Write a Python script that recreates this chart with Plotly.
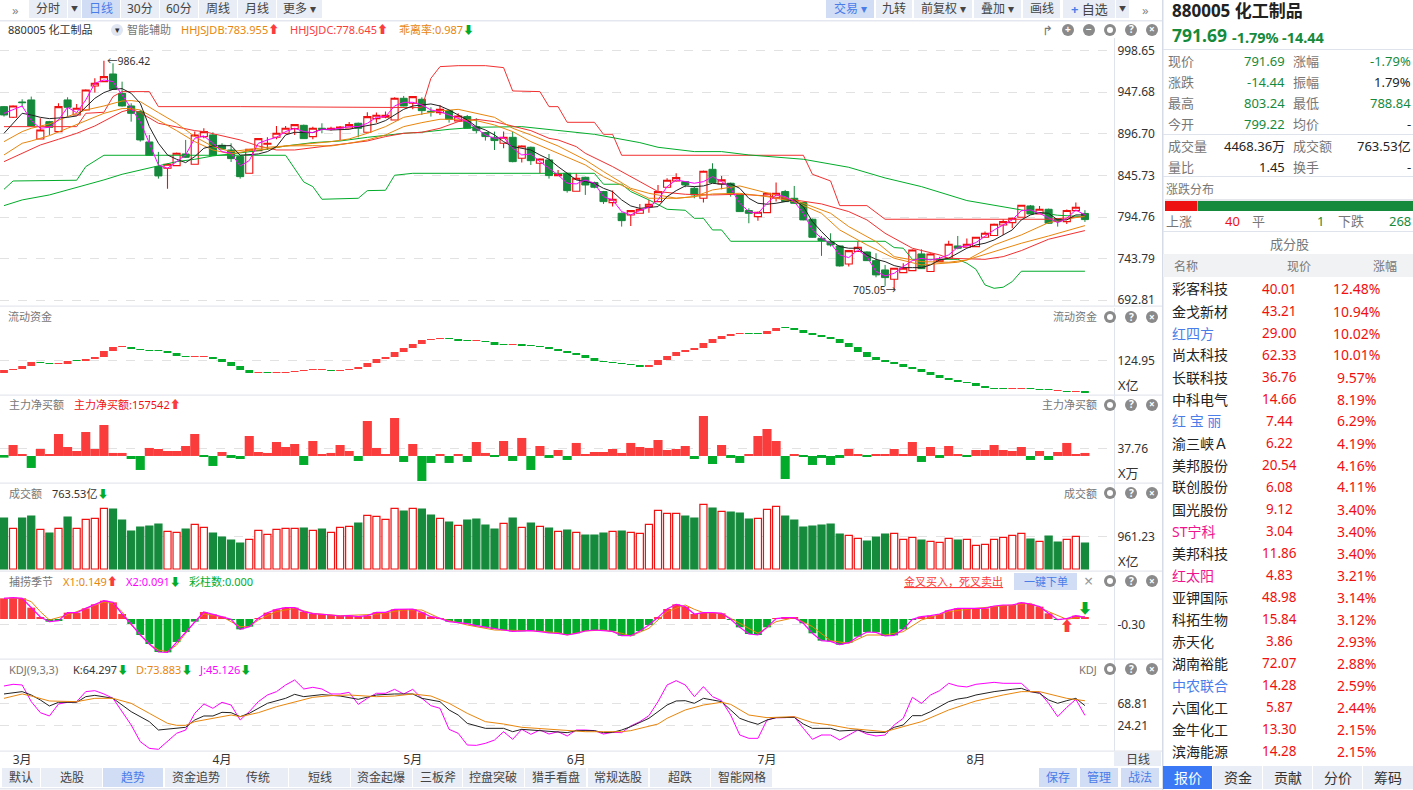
import plotly.graph_objects as go
from plotly.subplots import make_subplots

W, H = 1413, 790
FONT = "Noto Sans, Noto Sans CJK SC, DejaVu Sans"

RED = "#f01010"
RED2 = "#fb3c3c"
GREEN = "#168a3c"
GREEN2 = "#02ac2a"
ORANGE = "#e8860c"
MAGENTA = "#ff00ff"
BLUE = "#4a7de8"
GREY = "#777777"
DARK = "#222222"
BTN = "#e9edf5"
BTN_ON = "#d1dcf5"
LINE = "#e4e7ef"

# ---------- daily candles ----------
OPEN = [
    930.1, 917.0, 935.8, 938.3, 890.5, 911.7, 899.5, 938.3, 919.9, 926.0,
    955.4, 960.7, 970.1, 946.4, 930.9, 924.0, 886.8, 856.6, 854.6, 857.8,
    872.1, 859.5, 893.4, 895.4, 882.7, 877.0, 868.9, 848.4, 876.2, 884.0,
    892.5, 897.4, 903.2, 907.2, 893.4, 903.6, 902.3, 903.9, 903.9, 909.7,
    898.7, 915.4, 917.0, 913.8, 940.3, 934.2, 939.1, 924.4, 922.8, 925.2,
    912.6, 917.9, 905.6, 898.3, 892.5, 885.2, 892.5, 866.8, 880.3, 860.7,
    864.8, 845.6, 848.4, 826.4, 843.5, 837.0, 826.0, 812.5, 799.4, 797.4,
    799.4, 807.6, 813.7, 831.3, 839.0, 838.2, 830.0, 817.8, 853.3, 835.4,
    836.2, 821.9, 802.7, 795.3, 800.2, 817.8, 826.0, 817.8, 812.5, 792.1,
    768.8, 764.7, 759.4, 737.3, 752.5, 752.0, 741.4, 730.0, 718.6, 726.7,
    729.2, 749.6, 728.0, 740.2, 744.3, 759.4, 757.8, 758.6, 770.0, 772.1,
    785.1, 788.0, 794.5, 808.4, 798.6, 804.3, 792.9, 789.2, 802.7, 799.22,
]
HIGH = [
    930.9, 931.7, 939.1, 942.4, 915.8, 912.6, 934.2, 941.6, 933.4, 951.3,
    964.8, 986.42, 983.2, 960.7, 934.2, 926.0, 895.4, 874.6, 860.3, 873.8,
    889.3, 899.5, 903.6, 898.7, 885.2, 885.2, 869.7, 878.6, 891.7, 892.5,
    906.4, 906.4, 908.9, 908.1, 905.6, 909.7, 905.6, 906.4, 911.3, 910.5,
    923.2, 922.8, 924.0, 941.5, 943.2, 943.2, 941.5, 929.3, 932.1, 926.0,
    921.9, 919.9, 915.8, 899.1, 899.5, 899.5, 899.5, 882.7, 881.1, 866.8,
    872.1, 852.5, 849.2, 848.4, 844.3, 838.2, 826.8, 827.2, 800.2, 803.5,
    810.9, 815.8, 834.1, 842.3, 848.4, 839.0, 832.1, 851.7, 860.7, 845.2,
    837.0, 822.7, 805.5, 801.5, 824.7, 837.0, 828.0, 832.9, 813.3, 792.9,
    771.6, 774.9, 760.2, 754.5, 764.7, 752.8, 750.4, 736.1, 732.8, 738.2,
    755.3, 755.3, 750.4, 746.3, 765.9, 771.6, 768.4, 770.8, 777.0, 786.8,
    792.1, 794.1, 810.0, 809.6, 808.4, 805.1, 793.7, 803.9, 812.5, 803.24,
]
LOW = [
    917.9, 916.2, 929.3, 905.6, 890.1, 895.4, 899.1, 917.0, 919.5, 925.2,
    947.3, 960.3, 950.5, 930.1, 911.7, 887.2, 870.1, 841.9, 829.6, 857.4,
    867.6, 859.0, 891.3, 870.1, 877.8, 862.3, 841.9, 848.0, 875.8, 877.0,
    890.1, 896.6, 895.4, 890.5, 890.1, 897.4, 900.7, 889.3, 903.2, 892.5,
    898.3, 910.5, 915.8, 913.4, 930.5, 926.8, 919.9, 917.9, 919.9, 910.5,
    912.2, 903.2, 897.4, 888.5, 877.0, 879.1, 861.9, 861.5, 858.6, 848.4,
    841.9, 845.2, 824.7, 826.0, 821.9, 830.0, 810.9, 807.6, 783.1, 783.9,
    799.0, 800.2, 813.3, 830.9, 838.2, 831.3, 817.8, 812.5, 836.6, 828.8,
    819.8, 801.1, 787.2, 790.4, 799.8, 813.7, 813.3, 810.9, 790.8, 769.6,
    747.2, 758.6, 734.1, 734.1, 752.0, 741.0, 721.0, 710.4, 705.05, 726.3,
    728.8, 731.2, 727.5, 739.4, 743.9, 755.3, 757.4, 758.2, 769.6, 771.6,
    772.9, 781.0, 794.1, 798.2, 798.2, 786.8, 783.1, 786.4, 802.3, 788.84,
]
CLOSE = [
    919.9, 930.9, 935.0, 906.4, 901.5, 904.8, 930.1, 929.3, 928.1, 950.5,
    958.7, 966.9, 951.3, 930.9, 921.9, 889.3, 870.5, 845.2, 859.5, 872.9,
    868.0, 895.4, 899.5, 870.5, 878.2, 866.4, 844.3, 877.8, 890.9, 885.2,
    897.4, 903.6, 908.1, 890.9, 903.6, 902.3, 903.6, 905.2, 908.1, 903.6,
    917.9, 919.5, 919.5, 940.3, 930.9, 942.4, 925.2, 923.6, 926.8, 914.6,
    918.7, 903.6, 900.7, 893.4, 888.5, 892.5, 862.7, 881.9, 863.9, 866.0,
    845.6, 847.6, 827.2, 842.3, 834.1, 831.3, 813.7, 816.6, 790.4, 802.7,
    804.3, 810.5, 826.0, 839.9, 843.1, 834.1, 821.9, 850.9, 837.0, 840.3,
    823.9, 801.5, 799.4, 800.6, 823.9, 823.9, 813.7, 811.7, 791.3, 770.0,
    765.9, 760.6, 734.9, 753.7, 757.8, 741.4, 723.9, 720.6, 732.0, 732.0,
    754.5, 731.6, 749.6, 743.0, 761.4, 756.6, 761.4, 770.0, 774.9, 786.0,
    789.2, 793.3, 809.2, 798.6, 804.3, 787.2, 789.2, 802.9, 806.8, 791.69,
]
DAYS = list(range(len(CLOSE)))

# ---------- overlay lines on the candles ----------
MA_FAST = [
    921.9, 926.0, 930.9, 913.0, 903.6, 904.8, 913.8, 929.3, 922.8, 938.3,
    958.7, 962.8, 960.7, 944.4, 928.1, 911.7, 885.2, 858.6, 854.6, 862.7,
    870.9, 891.3, 894.2, 885.2, 875.0, 872.9, 857.4, 864.0, 885.2, 889.3,
    892.5, 899.5, 903.6, 899.5, 898.3, 902.3, 902.3, 903.6, 905.6, 905.6,
    909.7, 917.0, 917.9, 930.9, 935.4, 935.4, 932.1, 926.0, 924.0, 919.9,
    915.8, 911.7, 903.6, 895.4, 891.3, 892.5, 879.1, 870.9, 872.1, 862.7,
    854.6, 846.4, 836.2, 835.4, 840.3, 836.2, 819.8, 815.8, 801.5, 797.4,
    802.7, 806.8, 815.8, 832.1, 840.3, 838.2, 836.2, 838.2, 844.3, 838.2,
    830.0, 811.7, 801.5, 799.4, 811.7, 821.9, 819.8, 813.7, 799.4, 779.0,
    768.8, 762.7, 748.4, 745.1, 754.5, 746.3, 728.0, 722.6, 725.9, 734.1,
    741.4, 744.3, 742.2, 744.3, 748.4, 757.8, 759.4, 763.5, 771.6, 779.0,
    785.1, 791.3, 802.7, 803.5, 799.4, 793.3, 788.0, 793.3, 803.5, 797.4,
]
MA_SLOW = [
    897.4, 909.7, 921.9, 919.9, 917.0, 915.4, 915.8, 917.0, 918.7, 930.1,
    940.3, 947.3, 951.3, 952.2, 946.4, 934.2, 905.6, 885.2, 870.9, 865.6,
    861.5, 868.9, 879.1, 881.9, 881.9, 882.3, 870.5, 870.9, 872.1, 875.0,
    881.1, 895.4, 898.7, 898.3, 898.3, 902.3, 901.5, 901.9, 902.3, 904.8,
    906.4, 908.9, 913.0, 919.9, 926.8, 930.9, 932.1, 933.4, 930.9, 926.0,
    919.9, 913.8, 905.6, 901.5, 895.4, 887.2, 881.1, 879.1, 877.0, 870.9,
    865.6, 856.6, 848.4, 840.3, 838.2, 836.2, 830.0, 826.0, 815.8, 808.4,
    805.5, 806.4, 807.6, 819.8, 827.2, 832.9, 832.1, 832.9, 836.2, 835.0,
    835.4, 830.0, 817.8, 811.7, 810.5, 811.7, 813.7, 815.8, 807.6, 789.2,
    777.0, 765.9, 758.6, 756.6, 756.6, 748.4, 743.0, 740.2, 735.3, 732.8,
    732.8, 732.8, 736.1, 742.2, 744.3, 750.4, 756.6, 760.6, 762.7, 766.7,
    772.9, 779.0, 791.3, 797.4, 800.2, 799.4, 791.3, 791.3, 797.4, 797.4,
]
BAND_A_X = [0, 2, 3, 5, 7, 9, 11, 13, 14, 15, 17, 19, 21, 23, 25, 27, 29, 31, 34, 36,
            38, 40, 42, 44, 46, 48, 50, 52, 54, 56, 58, 61, 63, 64, 66, 69, 71, 74, 76, 78,
            81, 84, 87, 91, 93, 96, 98, 101, 104, 106, 109, 112, 115, 119]
BAND_A = [887.2, 899.5, 903.6, 908.9, 917.9, 926.0, 930.9, 937.0, 937.5, 936.2,
          922.8, 909.7, 893.4, 881.1, 875.0, 877.8, 880.3, 881.9, 885.2, 887.2,
          890.5, 897.4, 905.6, 917.0, 921.1, 924.8, 926.8, 921.9, 917.0, 903.6,
          895.4, 881.9, 870.9, 864.8, 850.5, 830.0, 823.9, 817.8, 819.8, 828.0,
          832.9, 823.9, 815.8, 799.4, 783.1, 764.7, 746.3, 740.2, 739.4, 742.2,
          760.6, 772.9, 788.0, 796.2]
BAND_B_X = [0, 2, 3, 5, 7, 9, 11, 13, 14, 15, 17, 19, 21, 23, 25, 27, 29, 31, 34, 36,
            38, 40, 42, 44, 46, 48, 50, 52, 54, 56, 58, 61, 64, 66, 69, 71, 74, 76, 78, 81,
            84, 87, 90, 92, 95, 98, 101, 105, 106, 109, 112, 115, 119]
BAND_B = [870.9, 885.2, 888.0, 894.6, 903.6, 913.0, 921.9, 927.7, 927.7, 926.0,
          913.8, 900.7, 887.2, 877.0, 872.1, 876.2, 878.2, 881.9, 882.3, 881.9,
          885.2, 889.3, 895.4, 905.6, 910.5, 914.6, 914.6, 913.0, 907.6, 899.5,
          887.2, 872.9, 858.6, 844.3, 828.0, 817.8, 817.8, 819.8, 823.1, 823.9,
          819.8, 813.7, 799.4, 779.0, 760.6, 744.3, 736.1, 739.4, 742.2, 752.5,
          762.7, 771.6, 784.3]
HHJSJDC_X = [0, 2, 4, 6, 8, 10, 12, 13, 14, 15, 17, 21, 22, 26, 28, 30, 32, 35, 38, 40,
             42, 44, 46, 48, 50, 52, 54, 56, 58, 60, 61, 63, 64, 67, 70, 72, 75, 78, 81, 84,
             87, 90, 93, 95, 97, 100, 103, 104, 108, 110, 112, 115, 119]
HHJSJDC = [862.7, 872.9, 883.1, 890.1, 897.4, 906.4, 917.9, 924.0, 926.8, 922.8,
           909.7, 900.7, 899.5, 889.3, 881.9, 877.0, 877.0, 881.1, 885.2, 888.0,
           893.4, 897.4, 898.7, 903.6, 911.7, 914.6, 911.7, 906.4, 900.7, 891.3,
           889.3, 881.1, 872.9, 856.6, 838.2, 826.0, 822.7, 821.9, 822.7, 820.7,
           815.8, 810.9, 801.5, 791.3, 774.9, 756.6, 748.4, 744.3, 743.0, 746.3,
           753.7, 767.6, 778.2]
TREND_X = [0, 2, 5, 8, 11, 13, 16, 19, 21, 23, 25, 28, 31, 34, 37, 40, 44, 46, 49, 52,
           57, 60, 63, 65, 70, 72, 76, 79, 82, 88, 93, 97, 101, 106, 112, 116, 119]
TREND = [808.8, 815.8, 821.9, 830.9, 840.3, 847.2, 854.6, 862.7, 865.6, 869.7,
         872.1, 876.2, 881.9, 886.0, 888.0, 892.5, 897.4, 898.7, 902.3, 904.8,
         905.6, 902.3, 898.3, 896.2, 886.0, 880.3, 875.0, 875.0, 870.9, 865.6,
         855.8, 842.7, 832.1, 815.0, 803.5, 797.0, 795.3]
CH_UP_X = [0, 8, 9, 11, 12, 13, 16, 17, 26, 46, 47, 48, 50, 53, 55, 56, 59, 60, 61, 62,
           65, 66, 67, 68, 88, 89, 91, 92, 95, 97, 115, 119]
CH_UP = [905.6, 905.6, 921.9, 923.2, 942.4, 948.5, 948.5, 930.1, 930.1, 928.9,
         964.8, 979.1, 980.3, 980.3, 977.9, 949.3, 948.5, 930.1, 930.1, 910.9,
         910.9, 896.2, 896.2, 870.5, 870.5, 847.2, 839.0, 808.8, 808.8, 792.1,
         792.1, 795.3]
CH_DN_X = [0, 1, 8, 9, 11, 31, 33, 34, 35, 39, 40, 42, 43, 45, 65, 66, 68, 69, 71, 73,
           75, 76, 77, 78, 79, 80, 97, 98, 99, 100, 105, 106, 107, 108, 109, 110, 111, 112, 119]
CH_DN = [828.8, 839.0, 839.9, 856.6, 870.5, 870.5, 837.8, 832.1, 816.6, 817.8,
         827.2, 827.6, 846.0, 848.4, 848.4, 835.0, 835.0, 826.0, 815.8, 804.3,
         803.1, 793.3, 793.3, 779.0, 779.0, 765.1, 765.1, 757.4, 756.6, 743.0,
         743.0, 738.2, 730.8, 711.6, 707.5, 708.8, 715.7, 728.4, 728.4]
PRICE_TICKS = [998.65, 947.68, 896.70, 845.73, 794.76, 743.79, 692.81]

# ---------- flow, floating blocks ----------
FLOW_OPEN = [
    106, 110.5, 112, 116.5, 122.5, 121, 119.5, 119.5, 125.5, 124,
    127, 130, 139, 145, 145, 142, 140.5, 140.5, 139, 136,
    131.5, 130, 130, 130, 127, 122.5, 116.5, 110.5, 106, 107.5,
    106, 106, 107.5, 109, 110.5, 110.5, 110.5, 109, 110.5, 112,
    115, 121, 127, 130, 137.5, 143.5, 149.5, 155.5, 157, 158.5,
    157, 155.5, 154, 154, 152.5, 149.5, 148, 149.5, 148, 146.5,
    145, 142, 139, 136, 133, 128.5, 124, 122.5, 121, 119.5,
    118, 115, 118, 125.5, 131.5, 137.5, 140.5, 143.5, 151, 157,
    161.5, 164.5, 166, 166, 164.5, 169, 175, 173.5, 170.5, 166,
    163, 160, 157, 151, 145, 137.5, 130, 125.5, 122.5, 119.5,
    115, 112, 107.5, 103, 98.5, 95.5, 92.5, 91, 86.5, 83.5,
    83.5, 82, 82, 83.5, 82, 82, 79, 79, 77.5, 79,
]
FLOW_CLOSE = [
    110.5, 112, 116.5, 122.5, 121, 119.5, 120.5, 124, 124, 127,
    130, 139, 145, 146.5, 142, 140.5, 139, 139, 136, 131.5,
    130, 131.5, 131.5, 127, 122.5, 116.5, 110.5, 106, 107.5, 106,
    107.5, 107.5, 109, 110.5, 112, 112, 109, 110.5, 112, 115,
    121, 127, 130, 137.5, 143.5, 149.5, 155.5, 157, 158.5, 157,
    154, 154, 155.5, 152.5, 148, 148, 149.5, 146.5, 146.5, 145,
    142, 139, 136, 133, 128.5, 124, 122.5, 121, 119.5, 118,
    115, 118, 125.5, 131.5, 137.5, 140.5, 143.5, 151, 157, 161.5,
    164.5, 166, 164.5, 164.5, 169, 173.5, 173.5, 170.5, 166, 163,
    160, 157, 151, 145, 137.5, 130, 125.5, 122.5, 119.5, 115,
    112, 107.5, 103, 98.5, 95.5, 92.5, 91, 86.5, 83.5, 82,
    82, 83.5, 83.5, 82, 80.5, 80.5, 80.5, 77.5, 79, 76,
]

# ---------- main force net buying ----------
NET_BUY = [
    -8.2, 54.1, 4.9, -59.0, 34.4, 4.9, 108.2, 44.3, 24.6, 118.1,
    34.4, 152.5, 14.8, 14.8, -14.8, -68.9, 39.4, 34.4, 24.6, 24.6,
    49.2, 108.2, -4.9, -49.2, 19.7, -9.8, -14.8, 98.4, 19.7, 14.8,
    68.9, 44.3, 59.0, -44.3, 73.8, 4.9, 14.8, 54.1, 24.6, -24.6,
    172.2, 39.4, 9.8, 187.0, -29.5, 59.0, -123.0, -34.4, 4.9, -34.4,
    4.9, -29.5, 68.9, 14.8, -4.9, 73.8, -24.6, 88.6, -68.9, 49.2,
    -9.8, 29.5, -19.7, 64.0, 4.9, 19.7, 19.7, 34.4, 14.8, 64.0,
    44.3, 39.4, 78.7, 29.5, 34.4, 49.2, -14.8, 196.8, -39.4, 54.1,
    -9.8, -34.4, 9.8, 98.4, 132.8, 73.8, -113.2, 9.8, -4.9, -44.3,
    -9.8, -44.3, -9.8, 34.4, 4.9, -4.9, 4.9, 9.8, 34.4, 4.9,
    68.9, -29.5, 44.3, -9.8, 49.2, 4.9, -3.3, 29.5, 29.5, 54.1,
    29.5, 24.6, 44.3, -19.7, 24.6, -19.7, 19.7, 64.0, 9.8, 14.8,
]

# ---------- turnover ----------
TURNOVER = [
    1501, 1197, 1501, 1560, 1167, 1059, 1197, 1530, 1197, 1462,
    1491, 1785, 1766, 1442, 1118, 1236, 1265, 1324, 1109, 1079,
    1177, 1315, 1226, 1059, 942, 853, 765, 873, 1138, 1020,
    1167, 1197, 1197, 1207, 1138, 1177, 1079, 1226, 1256, 1354,
    1579, 1550, 1462, 1785, 1707, 1785, 1766, 1589, 1491, 1383,
    1285, 1442, 1472, 1295, 1177, 1344, 1501, 1226, 1354, 1256,
    1207, 1109, 1148, 1079, 1001, 1001, 1059, 1109, 1118, 1079,
    1050, 1315, 1727, 1638, 1638, 1560, 1501, 1903, 1795, 1697,
    1678, 1648, 1472, 1491, 1756, 1844, 1560, 1442, 1236, 1265,
    1295, 1324, 1030, 991, 903, 824, 942, 1030, 1050, 873,
    932, 853, 814, 785, 903, 853, 873, 697, 726, 873,
    932, 991, 1050, 883, 814, 971, 795, 873, 961, 763.53,
]

# ---------- fishing season ----------
SEASON = [
    1.163, 1.200, 1.163, 0.638, 0.113, -0.150, -0.094, 0.356, 0.356, 0.600,
    0.825, 1.031, 0.938, 0.281, -0.281, -0.900, -1.406, -1.856, -1.875, -1.294,
    -0.731, -0.150, 0.394, 0.263, 0.131, -0.020, -0.581, -0.431, 0.038, 0.356,
    0.544, 0.638, 0.638, 0.413, 0.300, 0.281, 0.225, 0.169, 0.188, 0.131,
    0.188, 0.375, 0.375, 0.544, 0.563, 0.563, 0.375, 0.131, 0.038, -0.150,
    -0.206, -0.263, -0.375, -0.469, -0.563, -0.619, -0.694, -0.694, -0.656, -0.713,
    -0.788, -0.806, -0.900, -0.806, -0.675, -0.619, -0.656, -0.694, -0.938, -0.938,
    -0.675, -0.338, 0.094, 0.563, 0.825, 0.694, 0.281, 0.356, 0.356, 0.319,
    -0.019, -0.469, -0.844, -0.900, -0.469, 0.019, 0.075, 0.075, -0.244, -0.806,
    -1.219, -1.256, -1.444, -1.331, -0.994, -0.731, -0.750, -0.956, -0.919, -0.581,
    -0.019, 0.131, 0.188, 0.281, 0.488, 0.600, 0.600, 0.600, 0.600, 0.731,
    0.788, 0.788, 0.919, 0.844, 0.694, 0.319, -0.038, 0.019, 0.188, 0.091,
]
X1_X = [0, 2, 3, 4, 5, 6, 7, 9, 11, 12, 13, 14, 15, 16, 17, 18, 19, 20, 21, 22,
        24, 26, 27, 28, 30, 32, 34, 37, 41, 44, 46, 48, 51, 54, 58, 61, 62, 64, 66, 68,
        69, 71, 73, 75, 76, 77, 79, 81, 83, 85, 87, 89, 91, 93, 95, 97, 99, 101, 104, 107,
        111, 113, 115, 117, 119]
X1 = [1.163, 1.163, 0.975, 0.413, -0.056, 0.094, 0.225, 0.600, 0.938, 0.881,
      0.413, -0.338, -0.900, -1.406, -1.744, -1.838, -1.463, -0.806, -0.150, 0.281,
      0.131, -0.431, -0.431, -0.056, 0.413, 0.600, 0.319, 0.188, 0.263, 0.506,
      0.506, 0.038, -0.338, -0.619, -0.656, -0.769, -0.900, -0.675, -0.619, -0.806,
      -0.956, -0.525, 0.413, 0.788, 0.544, 0.356, 0.319, -0.244, -0.806, -0.150,
      0.075, -0.431, -1.219, -1.369, -0.900, -0.900, -0.713, -0.056, 0.413, 0.600,
      0.788, 0.881, 0.413, -0.019, 0.149]

# ---------- KDJ ----------
J_LINE = [
    102.9, 106.2, 104.9, 72.1, 50.4, 43.9, 67.5, 70.8, 72.1, 91.8,
    93.7, 87.2, 78.6, 52.4, 26.2, -6.6, -19.8, -21.7, -6.6, 9.8,
    16.3, 49.1, 67.5, 59.0, 70.8, 65.5, 36.0, 52.4, 72.1, 85.2,
    91.8, 104.9, 114.7, 97.0, 100.3, 97.0, 87.2, 87.2, 90.4, 66.8,
    78.6, 88.5, 88.5, 96.3, 87.2, 96.3, 78.6, 64.2, 59.0, 17.6,
    9.8, -13.2, -13.9, -9.9, -3.4, 13.0, -2.0, 17.6, 7.8, 16.3,
    8.4, 13.0, 4.5, 16.3, 16.3, 15.0, 8.4, 11.7, 11.1, 24.2,
    32.7, 44.5, 72.1, 104.9, 113.4, 104.9, 81.9, 101.6, 81.9, 74.0,
    45.8, 6.5, -0.1, -0.1, 36.0, 40.6, 40.6, 42.6, 19.6, -2.0,
    6.5, 6.5, -3.4, 6.5, 16.3, 8.4, 4.5, 6.5, 26.2, 39.3,
    80.6, 68.8, 85.2, 93.7, 108.2, 102.9, 101.0, 106.2, 108.2, 110.1,
    108.2, 108.2, 108.2, 91.8, 90.4, 68.8, 42.6, 60.9, 76.7, 45.126,
]
K_X = [0, 2, 3, 4, 5, 6, 8, 9, 10, 12, 14, 16, 17, 18, 20, 21, 22, 23, 24, 25,
       26, 27, 29, 31, 32, 33, 35, 37, 39, 41, 43, 45, 46, 48, 49, 50, 51, 53, 55, 56,
       57, 59, 61, 62, 63, 65, 66, 67, 68, 69, 71, 72, 73, 74, 75, 76, 77, 78, 79, 80,
       81, 82, 83, 84, 85, 87, 88, 89, 91, 92, 94, 95, 97, 98, 99, 100, 101, 102, 103, 104,
       105, 106, 107, 109, 111, 112, 113, 114, 115, 116, 117, 118, 119]
K_LINE = [87.2, 91.8, 85.2, 75.4, 63.6, 70.8, 70.8, 81.9, 84.5, 78.6,
          52.4, 32.7, 16.3, 17.6, 21.6, 36.0, 43.9, 43.9, 51.1, 50.4,
          42.6, 49.1, 68.8, 78.6, 86.5, 81.9, 85.9, 83.2, 76.7, 85.2,
          87.2, 87.2, 78.6, 72.1, 55.7, 45.8, 29.4, 19.6, 19.6, 13.0,
          17.6, 15.0, 13.0, 11.1, 15.0, 15.0, 11.1, 11.7, 16.3, 22.9,
          39.3, 52.4, 65.5, 73.4, 74.0, 68.8, 78.6, 75.4, 72.1, 55.7,
          39.3, 32.7, 27.5, 36.0, 40.6, 41.2, 28.1, 19.6, 19.6, 14.4,
          16.3, 11.7, 11.7, 21.6, 26.2, 44.5, 44.5, 52.4, 62.2, 72.1,
          77.3, 79.9, 85.2, 91.8, 96.4, 98.3, 91.8, 88.5, 75.4, 68.8,
          74.0, 78.6, 64.297]
D_X = [0, 2, 3, 5, 8, 10, 12, 14, 16, 18, 19, 20, 21, 23, 25, 26, 28, 30, 32, 34,
       36, 38, 41, 43, 45, 47, 49, 51, 53, 55, 57, 60, 62, 64, 66, 68, 69, 71, 72, 73,
       75, 77, 79, 80, 82, 84, 87, 89, 91, 93, 95, 97, 99, 101, 104, 107, 110, 112, 114, 117, 119]
D_LINE = [78.6, 87.2, 83.2, 73.4, 72.1, 78.6, 78.6, 68.8, 49.1, 29.4,
          25.5, 25.5, 32.7, 39.3, 45.8, 42.6, 50.4, 62.2, 72.1, 80.6,
          83.9, 85.2, 81.9, 83.2, 87.2, 83.2, 68.8, 49.1, 32.7, 28.1,
          21.6, 17.6, 16.3, 13.0, 13.0, 13.0, 15.0, 22.9, 28.1, 39.3,
          55.7, 65.5, 70.8, 66.8, 45.8, 40.6, 42.6, 30.8, 26.2, 19.6,
          16.3, 13.0, 22.9, 32.7, 55.7, 73.4, 85.2, 91.8, 91.8, 78.6, 73.883]

MONTH_POS = [2, 24, 45, 63, 84, 107]
MONTH_LABELS = ["3月", "4月", "5月", "6月", "7月", "8月"]

# ---------- side panel ----------
QUOTE_ROWS = [
    ("现价", "791.69", GREEN, "涨幅", "-1.79%", GREEN),
    ("涨跌", "-14.44", GREEN, "振幅", "1.79%", DARK),
    ("最高", "803.24", GREEN, "最低", "788.84", GREEN),
    ("今开", "799.22", GREEN, "均价", "-", DARK),
    ("成交量", "4468.36万", DARK, "成交额", "763.53亿", DARK),
    ("量比", "1.45", DARK, "换手", "-", DARK),
]
QUOTE_Y = [61, 82, 103, 124, 146, 167]
STOCK_NAMES = ["彩客科技", "金戈新材", "红四方", "尚太科技", "长联科技", "中科电气", "红 宝 丽", "渝三峡Ａ",
               "美邦股份", "联创股份", "国光股份", "ST宁科", "美邦科技", "红太阳", "亚钾国际", "科拓生物",
               "赤天化", "湖南裕能", "中农联合", "六国化工", "金牛化工", "滨海能源"]
STOCK_PRICES = ["40.01", "43.21", "29.00", "62.33", "36.76", "14.66", "7.44", "6.22", "20.54", "6.08", "9.12",
                "3.04", "11.86", "4.83", "48.98", "15.84", "3.86", "72.07", "14.28", "5.87", "13.30", "14.28"]
STOCK_PCTS = ["12.48%", "10.94%", "10.02%", "10.01%", "9.57%", "8.19%", "6.29%", "4.19%", "4.16%", "4.11%", "3.40%",
              "3.40%", "3.40%", "3.21%", "3.14%", "3.12%", "2.93%", "2.88%", "2.59%", "2.44%", "2.15%", "2.15%"]
STOCK_COLORS = {"红四方": BLUE, "红 宝 丽": BLUE, "中农联合": BLUE, "ST宁科": "#f0148c", "红太阳": "#f0148c"}

shapes = []
notes = []


def box(x0, y0, x1, y1, fill, kind="rect"):
    shapes.append(dict(type=kind, xref="paper", yref="paper", x0=x0 / W, x1=x1 / W,
                       y0=1 - y0 / H, y1=1 - y1 / H, fillcolor=fill, line_width=0))


def label(x, y, text, size=11, color=DARK, anchor="left"):
    notes.append(dict(xref="paper", yref="paper", x=x / W, y=1 - y / H, text=text, showarrow=False,
                      xanchor=anchor, yanchor="middle", borderpad=0, font=dict(size=size, color=color)))


def button(x0, x1, text, y0=0, y1=18, on=False, size=12):
    box(x0, y0, x1, y1, BTN_ON if on else BTN)
    label((x0 + x1) / 2, (y0 + y1) / 2, text, size, BLUE if on else "#444444", "center")


def icon(x, y, glyph):
    box(x - 6, y - 6, x + 6, y + 6, "#8a8a8a", "circle")
    if glyph == "gear":
        box(x - 3, y - 3, x + 3, y + 3, "white", "circle")
    else:
        label(x, y - 0.5, "<b>%s</b>" % glyph, 10, "white", "center")


def colored(text, color):
    return '<span style="color:%s">%s</span>' % (color, text)


UP = colored("⬆", RED2)
DOWN = colored("⬇", GREEN2)

fig = make_subplots(rows=5, cols=1, shared_xaxes=True)

# price panel
fig.add_trace(go.Candlestick(
    x=DAYS, open=OPEN, high=HIGH, low=LOW, close=CLOSE, whiskerwidth=0,
    increasing=dict(line=dict(color=RED, width=1.1), fillcolor="white"),
    decreasing=dict(line=dict(color=GREEN, width=1), fillcolor=GREEN),
), row=1, col=1)
for xs, ys, color in [
    (CH_UP_X, CH_UP, "#f23030"), (CH_DN_X, CH_DN, GREEN2), (TREND_X, TREND, GREEN2),
    (HHJSJDC_X, HHJSJDC, "#f23030"), (BAND_B_X, BAND_B, ORANGE), (BAND_A_X, BAND_A, ORANGE),
    (DAYS, MA_SLOW, "#222222"), (DAYS, MA_FAST, MAGENTA),
]:
    fig.add_trace(go.Scatter(x=xs, y=ys, mode="lines", line=dict(color=color, width=1)), row=1, col=1)

# flow panel
fig.add_trace(go.Bar(
    x=DAYS, base=[min(a, b) for a, b in zip(FLOW_OPEN, FLOW_CLOSE)],
    y=[abs(a - b) for a, b in zip(FLOW_OPEN, FLOW_CLOSE)], width=0.86,
    marker=dict(color=[RED2 if c > o else GREEN2 for o, c in zip(FLOW_OPEN, FLOW_CLOSE)], line_width=0),
), row=2, col=1)

# net buying panel
fig.add_trace(go.Bar(
    x=DAYS, y=NET_BUY, width=1.0,
    marker=dict(color=[RED2 if v > 0 else GREEN2 for v in NET_BUY], line_width=0),
), row=3, col=1)

# turnover panel
fig.add_trace(go.Bar(
    x=DAYS, y=TURNOVER, width=0.78,
    marker=dict(color=["white" if c >= o else GREEN for o, c in zip(OPEN, CLOSE)],
                line=dict(color=[RED if c >= o else GREEN for o, c in zip(OPEN, CLOSE)], width=1.2)),
), row=4, col=1)

# the bottom row holds both season and KDJ, so KDJ gets its own axes below
fig.add_trace(go.Bar(
    x=DAYS, y=SEASON, width=0.86,
    marker=dict(color=[RED2 if v > 0 else GREEN2 for v in SEASON], line_width=0),
), row=5, col=1)
fig.add_trace(go.Scatter(x=X1_X, y=X1, mode="lines", line=dict(color=ORANGE, width=1)), row=5, col=1)
fig.add_trace(go.Scatter(x=DAYS, y=SEASON, mode="lines", line=dict(color=MAGENTA, width=1.2)), row=5, col=1)

for ys, xs, color in [(J_LINE, DAYS, MAGENTA), (K_LINE, K_X, "#222222"), (D_LINE, D_X, ORANGE)]:
    fig.add_trace(go.Scatter(x=xs, y=ys, mode="lines", line=dict(color=color, width=1),
                             xaxis="x6", yaxis="y6"))


def dom(top, bottom):
    return [1 - bottom / H, 1 - top / H]


X_RANGE = [-0.44, 122.2]
CHART_RIGHT = 1114 / W
fig.update_xaxes(range=X_RANGE, domain=[0, CHART_RIGHT], showgrid=False, zeroline=False,
                 showline=False, ticks="", showticklabels=False)
AXIS_STYLE = dict(side="right", showgrid=True, griddash="dash", gridcolor="#e2e2e2", gridwidth=1,
                  zeroline=False, showline=True, linecolor="#dfe3ec", ticks="", ticklabelposition="outside",
                  tickfont=dict(size=12, color="#333333"), automargin=False)

fig.update_layout(
    yaxis=dict(domain=dom(38, 306), range=[685.8, 1014.2], tickvals=PRICE_TICKS,
               ticktext=["%.2f" % v for v in PRICE_TICKS], **AXIS_STYLE),
    yaxis2=dict(domain=dom(308, 395), range=[73, 203.5], tickvals=[124.95], ticktext=["124.95"], **AXIS_STYLE),
    yaxis3=dict(domain=dom(395, 483), range=[-133, 300], tickvals=[37.76], ticktext=["37.76"], **AXIS_STYLE),
    yaxis4=dict(domain=dom(483, 570), range=[-29, 2531], tickvals=[961.23], ticktext=["961.23"], **AXIS_STYLE),
    yaxis5=dict(domain=dom(572, 659), range=[-2.25, 2.644], tickvals=[-0.30], ticktext=["-0.30"], **AXIS_STYLE),
    yaxis6=dict(domain=dom(659, 751), range=[-25.0, 156.0], tickvals=[68.81, 24.21],
                ticktext=["68.81", "24.21"], anchor="x6", **AXIS_STYLE),
    xaxis6=dict(domain=[0, CHART_RIGHT], range=X_RANGE, anchor="y6", matches="x", showgrid=False,
                zeroline=False, showline=False, ticks="", tickvals=MONTH_POS, ticktext=MONTH_LABELS,
                tickfont=dict(size=12, color="#333333")),
)

# ---------- top toolbar ----------
label(15, 10, "»", 13, "#888888", "center")
button(29, 67, "分时")
button(68, 81, "▼", size=7)
button(82, 120, "日线", on=True)
button(121, 159, "30分")
button(160, 198, "60分")
button(199, 237, "周线")
button(238, 276, "月线")
button(277, 322, "更多 ▾")
button(826, 874, "交易 ▾", on=True)
button(876, 912, "九转")
button(914, 972, "前复权 ▾")
button(974, 1021, "叠加 ▾")
button(1023, 1060, "画线")
button(1063, 1115, colored("<b>+</b>", BLUE) + " 自选", size=13)
button(1116, 1129, "▼", size=7)
label(1145, 10, "»", 13, "#888888", "center")
box(0, 20, 1162, 21.5, LINE)

# ---------- legend row ----------
label(7, 30, "880005 化工制品", 11, "#333333")
box(111, 24, 123, 36, "#dfe6f2", "circle")
label(117, 30, "▾", 9, "#333333", "center")
label(126, 30, "智能辅助", 11, GREY)
label(180, 30, "HHJSJDB:783.955" + UP, 11, ORANGE)
label(289, 30, "HHJSJDC:778.645" + UP, 11, RED2)
label(398, 30, "乖离率:0.987" + DOWN, 11, ORANGE)
label(1047, 30, "↱", 13, "#777777", "center")
icon(1068, 30, "+")
icon(1089, 30, "−")
icon(1110, 30, "gear")
icon(1131, 30, "?")
icon(1152, 30, "×")

notes.append(dict(xref="x", yref="y", x=11.1, y=986.42, text="←986.42", showarrow=False, xanchor="left",
                  font=dict(size=10.5, color="#333333")))
notes.append(dict(xref="x", yref="y", x=98.5, y=705.05, text="705.05→", showarrow=False, xanchor="right",
                  font=dict(size=10.5, color="#333333")))

# ---------- panel titles ----------
PANEL_TITLE_Y = [317, 405, 493, 581, 669]
label(7, 317, "流动资金", 11, GREY)
label(8, 405, "主力净买额", 11, GREY)
label(73, 405, "主力净买额:157542" + UP, 11, RED)
label(8, 493, "成交额", 11, GREY)
label(51, 493, "763.53亿" + DOWN, 11, "#333333")
label(8, 581, "捕捞季节", 11, GREY)
label(62, 581, "X1:0.149" + UP, 11, ORANGE)
label(125, 581, "X2:0.091" + DOWN, 11, MAGENTA)
label(188, 581, "彩柱数:0.000", 11, GREEN2)
label(8, 669, "KDJ(9,3,3)", 11, GREY)
label(72, 669, "K:64.297" + DOWN, 11, "#333333")
label(135, 669, "D:73.883" + DOWN, 11, ORANGE)
label(198, 669, "J:45.126" + DOWN, 11, MAGENTA)

label(1098, 317, "流动资金", 11, GREY, "right")
label(1098, 405, "主力净买额", 11, GREY, "right")
label(1098, 493, "成交额", 11, GREY, "right")
label(1098, 669, "KDJ", 11, GREY, "right")
label(1004, 581, "<u>金叉买入，死叉卖出</u>", 11, RED2, "right")
button(1014, 1077, "一键下单", 573, 590, on=True, size=11)
label(1088, 581, "×", 16, "#999999", "center")
for py in PANEL_TITLE_Y:
    icon(1110, py, "gear")
    icon(1131, py, "?")
    icon(1152, py, "×")

label(1117, 385, "X亿", 13, "#333333")
label(1117, 473, "X万", 13, "#333333")
label(1117, 561, "X亿", 13, "#333333")

notes.append(dict(xref="x5", yref="y5", x=117, y=-0.38, text="⬆", showarrow=False, font=dict(size=14, color=RED2)))
notes.append(dict(xref="x5", yref="y5", x=119, y=0.62, text="⬇", showarrow=False, font=dict(size=14, color=GREEN2)))

for py in [306, 395, 483, 571, 659, 751]:
    box(0, py - 0.5, 1162, py + 0.7, LINE)
box(1162, 0, 1163.5, H, "#d6dbe8")

# ---------- bottom tabs ----------
button(1114, 1161, "日线", 752, 766)
TABS = [("默认", 2, 40), ("选股", 41, 102), ("趋势", 103, 163), ("资金追势", 165, 226), ("传统", 227, 288),
        ("短线", 289, 350), ("资金起爆", 351, 412), ("三板斧", 413, 462), ("控盘突破", 463, 524),
        ("猎手看盘", 525, 586), ("常规选股", 588, 648), ("超跌", 650, 710), ("智能网格", 711, 772)]
for name, x0, x1 in TABS:
    button(x0, x1, name, 768, 787, on=name == "趋势")
button(1039, 1077, "保存", 768, 787, on=True)
button(1080, 1118, "管理", 768, 787, on=True)
button(1121, 1159, "战法", 768, 787, on=True)
box(0, 788, 1162, 789.5, LINE)

# ---------- quote side panel ----------
label(1171, 11, "<b>880005 化工制品</b>", 17, DARK)
label(1171, 35, "<b>791.69</b>", 17.5, GREEN)
label(1231, 37, "<b>-1.79%</b>", 14.5, GREEN)
label(1281, 37, "<b>-14.44</b>", 14.5, GREEN)
for py in [49, 134, 176, 231]:
    box(1163, py, W, py + 1, "#dfe3ec")
for (name_a, val_a, col_a, name_b, val_b, col_b), py in zip(QUOTE_ROWS, QUOTE_Y):
    label(1167, py, name_a, 13, GREY)
    label(1286, py, val_a, 13, col_a, "right")
    label(1292, py, name_b, 13, GREY)
    label(1412, py, val_b, 13, col_b, "right")

label(1165, 190, "涨跌分布", 12, GREY)
box(1165, 199.5, W, 200.5, "#c9ced8")
box(1165, 201, 1197, 211, "#ee1111")
box(1197.5, 201, W, 211, GREEN)
label(1165, 221, "上涨", 13, GREY)
label(1241, 221, "40", 13, RED, "right")
label(1251, 221, "平", 13, GREY)
label(1325, 221, "1", 13, GREEN, "right")
label(1337, 221, "下跌", 13, GREY)
label(1412, 221, "268", 13, GREEN, "right")

label(1289, 244, "成分股", 13, GREY, "center")
box(1163, 254, W, 277, "#f1f2f4")
label(1173, 266, "名称", 12, GREY)
label(1299, 266, "现价", 12, GREY, "center")
label(1385, 266, "涨幅", 12, GREY, "center")
for k, name in enumerate(STOCK_NAMES):
    py = 289 + 22 * k
    label(1171, py, name, 14, STOCK_COLORS.get(name, DARK))
    label(1279, py, STOCK_PRICES[k], 13.5, RED, "center")
    label(1356, py, STOCK_PCTS[k], 14, RED, "center")

SIDE_TABS = [("报价", 1163, 1212), ("资金", 1213, 1262), ("贡献", 1263, 1312), ("分价", 1313, 1362), ("筹码", 1363, 1413)]
for name, x0, x1 in SIDE_TABS:
    box(x0, 766, x1, 789, "#3b78f5" if name == "报价" else BTN)
    label((x0 + x1) / 2, 777.5, name, 14, "white" if name == "报价" else "#333333", "center")

fig.update_layout(
    width=W, height=H, margin=dict(l=0, r=0, t=0, b=0), showlegend=False, plot_bgcolor="white",
    paper_bgcolor="white", font=dict(family=FONT, size=12, color="#333333"),
    barmode="overlay", boxgap=0.22, boxgroupgap=0, hovermode=False,
    xaxis_rangeslider_visible=False, shapes=shapes, annotations=notes,
)

fig.write_html("out.html", config={"displayModeBar": False},
               post_script="document.body.style.margin='0';document.body.style.overflow='hidden';")
